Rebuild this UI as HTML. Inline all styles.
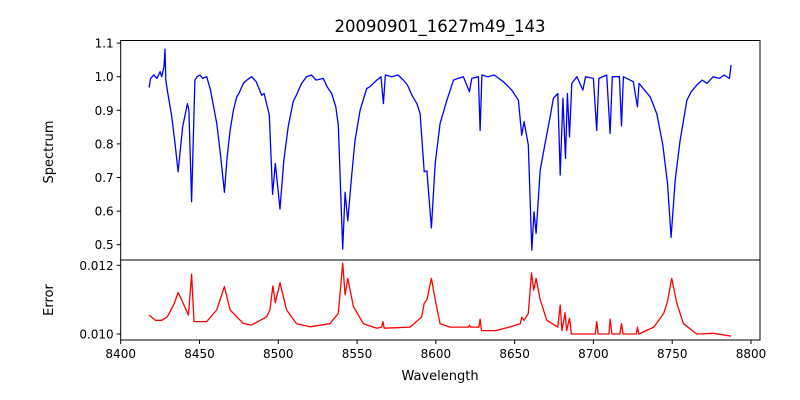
<!DOCTYPE html>
<html><head><meta charset="utf-8"><style>
body{margin:0;background:#fff;}
svg{display:block;font-family:"DejaVu Sans","Liberation Sans",sans-serif;}
</style></head><body>
<svg id="chart" width="800" height="400" viewBox="0 0 800 400" xmlns="http://www.w3.org/2000/svg">
<rect width="800" height="400" fill="#fff"/>
<text x="440" y="32" font-size="16.5" text-anchor="middle">20090901_1627m49_143</text>
<text transform="translate(53,152) rotate(-90)" font-size="13" text-anchor="middle">Spectrum</text>
<text transform="translate(53,300) rotate(-90)" font-size="13" text-anchor="middle">Error</text>
<text x="440" y="380" font-size="13" text-anchor="middle">Wavelength</text>
<g id="g"></g>
</svg>
<script>
const specWave=[8418,8419,8421,8423,8425,8426,8427.5,8428.1,8428.6,8429.6,8432.4,8434.5,8436.4,8439.3,8442.3,8443.3,8445,8447.1,8448.5,8450.3,8452,8454.6,8457,8460.9,8463.5,8465.8,8467.5,8469.4,8471.5,8473.6,8475,8477.8,8480,8483.1,8486,8489.5,8491,8494.3,8496.4,8498.1,8501.1,8503.5,8506.3,8509.5,8512,8514.8,8518,8521,8524,8528.6,8531,8533.9,8536.5,8538.1,8540.9,8542.4,8544.1,8546.5,8548.7,8551.9,8556.1,8558,8562.5,8565.2,8566.7,8568,8572,8576,8579.4,8582,8584.8,8588,8590,8592.6,8594.3,8597.2,8599.6,8602.7,8607,8611.2,8614,8617.5,8621.3,8622.8,8627,8628.1,8629.2,8633,8637,8642.8,8648.2,8652.4,8654.5,8656,8658.7,8660.9,8662.3,8663.6,8666.2,8669.3,8672.5,8674.6,8677.4,8678.9,8680.6,8682.3,8683.5,8684.8,8686.3,8689.5,8693.3,8695,8700,8702.1,8703.5,8708.4,8710.6,8712,8716.5,8717.8,8719,8725.3,8727.9,8729,8736,8740.2,8744,8747,8749.3,8751.9,8755,8759.3,8762,8765.6,8769,8772,8776,8780,8783,8786.3,8787.4];
const specFlux=[0.968,0.995,1.005,0.995,1.015,1.0,1.03,1.082,0.99,0.96,0.88,0.80,0.717,0.85,0.92,0.90,0.628,0.99,1.0,1.005,0.995,1.0,0.96,0.862,0.76,0.656,0.76,0.84,0.90,0.94,0.95,0.98,0.99,1.0,0.985,0.945,0.95,0.886,0.65,0.742,0.606,0.75,0.851,0.926,0.95,0.98,1.0,1.005,0.99,0.995,0.97,0.95,0.91,0.856,0.487,0.656,0.571,0.70,0.81,0.90,0.965,0.97,0.99,1.0,0.92,1.005,1.0,1.005,0.99,0.975,0.945,0.92,0.89,0.717,0.72,0.55,0.742,0.861,0.93,0.99,0.995,1.0,0.955,0.995,1.0,0.84,1.005,1.0,1.005,0.985,0.96,0.93,0.826,0.866,0.797,0.484,0.598,0.534,0.722,0.80,0.88,0.936,0.95,0.707,0.936,0.757,0.95,0.821,0.98,1.0,0.96,1.0,0.995,0.84,0.995,1.005,0.831,1.0,1.0,0.854,1.0,0.985,0.91,0.98,0.94,0.89,0.797,0.683,0.522,0.693,0.81,0.93,0.955,0.975,0.99,0.98,1.0,0.995,1.005,0.995,1.035];
const errWave=[8418,8422,8426,8429.6,8434,8436.4,8438.7,8443,8445,8446.5,8454.6,8460.9,8465.8,8469.4,8477.8,8483,8492.6,8494.7,8496.6,8498.1,8501.1,8505.3,8511.6,8520,8532.8,8538.1,8540.9,8542.4,8544.1,8547.7,8554,8562.5,8565.6,8566.4,8567.2,8583.7,8591,8592.6,8594.3,8597.2,8599.6,8602.7,8609,8620.5,8621.3,8622,8627.3,8628.1,8629,8638,8646.5,8653.6,8654.5,8656,8658.7,8660.7,8662.1,8663.6,8666.2,8670.4,8677.4,8678.9,8680,8682,8683,8684.8,8686,8693.8,8701.2,8702.1,8703,8709.8,8710.6,8711.7,8716.8,8717.8,8718.8,8727.2,8727.9,8728.8,8738.3,8744.6,8747,8749.7,8752.9,8757.1,8765.6,8776,8787.4];
const errVal=[0.01055,0.0104,0.0104,0.0105,0.01089,0.01121,0.01099,0.01055,0.01174,0.01036,0.01036,0.0107,0.01138,0.0107,0.01031,0.01026,0.0105,0.0107,0.0114,0.01091,0.01149,0.0107,0.0103,0.01021,0.0103,0.0106,0.01206,0.01114,0.01162,0.0108,0.0103,0.01017,0.0102,0.01036,0.01017,0.0102,0.0105,0.01089,0.011,0.01162,0.011,0.0103,0.0102,0.0102,0.01025,0.0102,0.0102,0.01043,0.0101,0.0101,0.0102,0.0103,0.01049,0.0104,0.0106,0.01178,0.01128,0.01162,0.011,0.0104,0.0102,0.01084,0.0101,0.01062,0.0101,0.01046,0.01,0.01,0.01,0.01036,0.01,0.01,0.01043,0.01,0.01,0.0103,0.01,0.01,0.0102,0.01,0.0102,0.0106,0.01095,0.01162,0.0109,0.0103,0.01,0.01002,0.00994];
const xTicks=[8400,8450,8500,8550,8600,8650,8700,8750,8800];
const specTicks=[0.5,0.6,0.7,0.8,0.9,1.0,1.1];
const errTicks=[0.010,0.012];

const L=120.7,R=760,T1=40.5,B1=260,B2=340;
const xS=w=>120.7+(w-8400)*(751-120.7)/400;
const yS=v=>76.7-(v-1.0)*336;
const yE=v=>334-(v-0.010)*34350;
const NS="http://www.w3.org/2000/svg";
const g=document.getElementById('g');
function mk(t,a){const e=document.createElementNS(NS,t);for(const k in a)e.setAttribute(k,a[k]);g.appendChild(e);return e;}

let d=specWave.map((w,i)=>(i?'L':'M')+xS(w).toFixed(1)+','+yS(specFlux[i]).toFixed(1)).join('');
let p=mk('path',{d:d,fill:'none',stroke:'#0000ff','stroke-width':1.3,'stroke-linejoin':'round'});


d=errWave.map((w,i)=>(i?'L':'M')+xS(w).toFixed(1)+','+yE(errVal[i]).toFixed(1)).join('');
p=mk('path',{d:d,fill:'none',stroke:'#ff0000','stroke-width':1.3,'stroke-linejoin':'round'});



let f=mk('rect',{x:L,y:T1,width:R-L,height:B1-T1,fill:'none',stroke:'#000','stroke-width':1});


f=mk('rect',{x:L,y:B1,width:R-L,height:B2-B1,fill:'none',stroke:'#000','stroke-width':1});



xTicks.forEach(v=>{const x=xS(v);
 mk('line',{x1:x,x2:x,y1:B2,y2:B2+4,stroke:'#000'});
 const t=mk('text',{x:x,y:B2+18,'font-size':12,'text-anchor':'middle'});t.textContent=v;
 
 
});
specTicks.forEach(v=>{const y=yS(v);
 mk('line',{x1:L-4,x2:L,y1:y,y2:y,stroke:'#000'});
 const t=mk('text',{x:L-7,y:y+4.5,'font-size':12,'text-anchor':'end'});t.textContent=v.toFixed(1);
 
 
});
errTicks.forEach(v=>{const y=yE(v);
 mk('line',{x1:L-4,x2:L,y1:y,y2:y,stroke:'#000'});
 const t=mk('text',{x:L-7,y:y+4.5,'font-size':12,'text-anchor':'end'});t.textContent=v.toFixed(3);
 
 
});
</script>
</body></html>
